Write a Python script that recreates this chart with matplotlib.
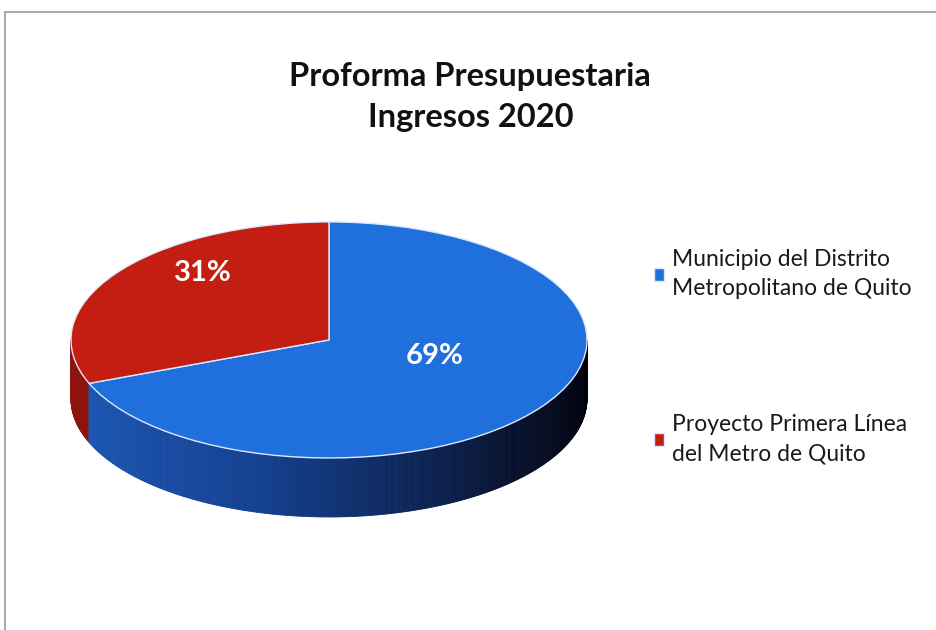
import matplotlib.pyplot as plt
import numpy as np
from matplotlib.patches import Rectangle

plt.rcParams['font.family'] = ['Lato', 'DejaVu Sans']

# datos
labels = ['Municipio del Distrito\nMetropolitano de Quito',
          'Proyecto Primera Línea\ndel Metro de Quito']
values = [69, 31]
top_colors = ['#1f6fdc', '#c41e12']
title = 'Proforma Presupuestaria\nIngresos 2020'

fig = plt.figure(figsize=(9.37, 6.3), dpi=100)
# marco gris del recuadro escaneado
fig.patches.append(Rectangle((5/937, -0.1), 1.1, 1.081, transform=fig.transFigure,
                             fill=False, edgecolor='#9a9a9a', lw=1.2))

ax = fig.add_axes([0.0427, 0.1429, 0.619, 0.5556])
depth = 0.5

# pared lateral (solo la mitad frontal), con degradado
tot = float(sum(values))
red_end = 90 + 360 * values[1] / tot   # la porcion roja va de 90 a red_end (antihorario)
stops = np.array([[0.12, 0.38, 0.76], [0.08, 0.26, 0.58], [0.03, 0.07, 0.18], [0.0, 0.0, 0.02]])
spos = np.array([0.0, 0.4, 0.75, 1.0])
ts = np.linspace(180, 360, 361)
for a, b in zip(ts[:-1], ts[1:]):
    m = (a + b) / 2
    if m < red_end:
        c = (0.55, 0.08, 0.05)
    else:
        f = (m - 180) / 180
        c = [np.interp(f, spos, stops[:, k]) for k in range(3)]
    ra, rb = np.radians(a), np.radians(b)
    xs = [np.cos(ra), np.cos(rb), np.cos(rb), np.cos(ra)]
    ys = [np.sin(ra), np.sin(rb), np.sin(rb) - depth, np.sin(ra) - depth]
    ax.fill(xs, ys, color=c, lw=0.6, edgecolor=c, zorder=1)

wedges, texts, autotexts = ax.pie(values, colors=top_colors, startangle=90, counterclock=False,
                                  autopct=lambda p: f'{p:.0f}%',
                                  wedgeprops=dict(edgecolor='#dce8ff', linewidth=1.0),
                                  textprops=dict(color='white', fontsize=21, fontweight='bold'))
for w in wedges:
    w.set_zorder(2)
autotexts[0].set_position((0.41, -0.14))
autotexts[1].set_position((-0.49, 0.57))
for t in autotexts:
    t.set_zorder(3)

ax.set_aspect('auto')
ax.set_xlim(-1.12, 1.128)
ax.set_ylim(-1.695, 1.271)
ax.axis('off')

fig.text(0.502, 1 - 97/630, title, ha='center', va='center', fontsize=23.5,
         fontweight='bold', color='#111111', linespacing=1.5)

leg = fig.legend(wedges, labels, loc='upper left', bbox_to_anchor=(0.698, 0.605),
                 fontsize=16.5, frameon=False, labelspacing=5.0, handlelength=0.45,
                 handleheight=0.45, handletextpad=0.35, borderpad=0, borderaxespad=0,
                 labelcolor='#1a1a1a')
for t in leg.get_texts():
    t.set_linespacing(1.5)

fig.savefig('out.png', dpi=100)
